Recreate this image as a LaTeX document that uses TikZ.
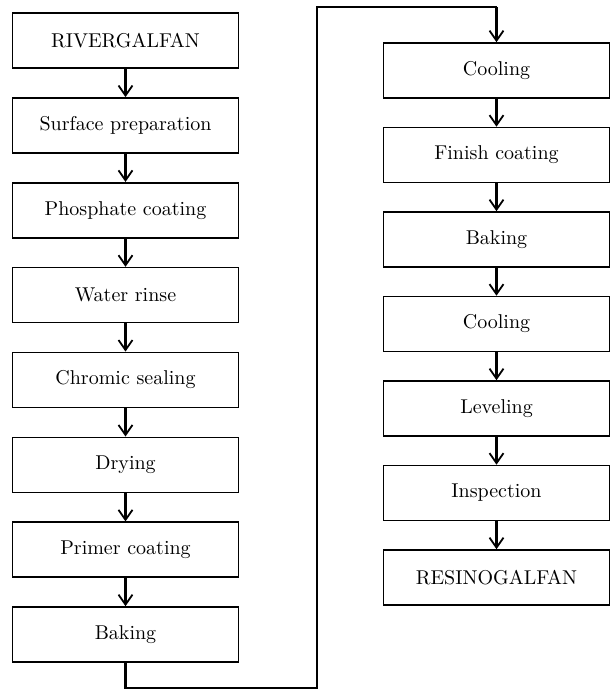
\documentclass[tikz,border=0pt]{standalone}
\usepackage{tikz}
\usetikzlibrary{arrows.meta, positioning}

\begin{document}
\begin{tikzpicture}[
    x=0.5pt, y=-0.5pt,
    stepbox/.style={rectangle, draw=black, line width=0.8pt, minimum width=113pt,
                    minimum height=27.5pt, font=\normalsize, align=center, inner sep=0pt},
    flow/.style={line width=1.6pt, -{Straight Barb[length=5pt,width=7pt,line width=0.9pt]}},
    link/.style={line width=1.4pt}
]
\useasboundingbox (0,0) rectangle (610,690);

% Left column
\node[stepbox] at (125.5,40.5) (river) {RIVERGALFAN};
\node[stepbox] at (125.5,125.4) (surf) {Surface preparation};
\node[stepbox] at (125.5,210.2) (phos) {Phosphate coating};
\node[stepbox] at (125.5,295.1) (rinse) {Water rinse};
\node[stepbox] at (125.5,379.9) (chrom) {Chromic sealing};
\node[stepbox] at (125.5,464.8) (dry) {Drying};
\node[stepbox] at (125.5,549.7) (primer) {Primer coating};
\node[stepbox] at (125.5,634.5) (bakeA) {Baking};

% Right column
\node[stepbox] at (496.5,70.5) (coolA) {Cooling};
\node[stepbox] at (496.5,155) (finish) {Finish coating};
\node[stepbox] at (496.5,239.5) (bakeB) {Baking};
\node[stepbox] at (496.5,324) (coolB) {Cooling};
\node[stepbox] at (496.5,408.5) (level) {Leveling};
\node[stepbox] at (496.5,493) (insp) {Inspection};
\node[stepbox] at (496.5,577.5) (resino) {RESINOGALFAN};

% Turn-over path
\coordinate (turnA) at (125.5,688);
\coordinate (turnB) at (317,688);
\coordinate (turnC) at (317,7);
\coordinate (turnD) at (496.5,7);

% Flow arrows
\draw[flow] (river) -- (surf);
\draw[flow] (surf) -- (phos);
\draw[flow] (phos) -- (rinse);
\draw[flow] (rinse) -- (chrom);
\draw[flow] (chrom) -- (dry);
\draw[flow] (dry) -- (primer);
\draw[flow] (primer) -- (bakeA);
\draw[link] (bakeA.south) -- (turnA) -- (turnB) -- (turnC) -- (turnD);
\draw[flow] (turnD) -- (coolA);
\draw[flow] (coolA) -- (finish);
\draw[flow] (finish) -- (bakeB);
\draw[flow] (bakeB) -- (coolB);
\draw[flow] (coolB) -- (level);
\draw[flow] (level) -- (insp);
\draw[flow] (insp) -- (resino);

\end{tikzpicture}
\end{document}
